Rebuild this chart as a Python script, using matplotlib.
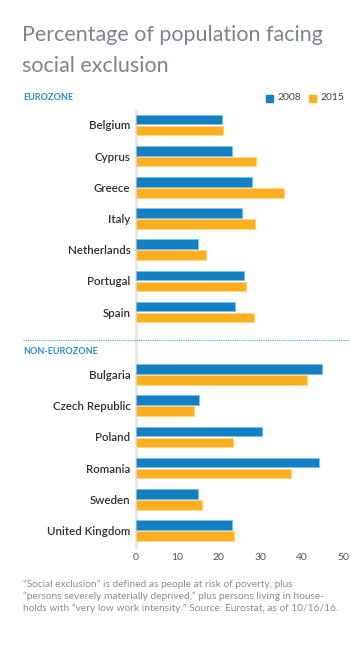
import numpy as np
import matplotlib.pyplot as plt
from matplotlib.patches import Rectangle

# data
euro_countries = ["Belgium", "Cyprus", "Greece", "Italy", "Netherlands", "Portugal", "Spain"]
euro_2008 = [20.8, 23.2, 28.1, 25.5, 15.0, 26.0, 23.9]
euro_2015 = [21.1, 28.9, 35.7, 28.7, 16.8, 26.6, 28.6]

non_euro_countries = ["Bulgaria", "Czech Republic", "Poland", "Romania", "Sweden", "United Kingdom"]
non_euro_2008 = [44.9, 15.3, 30.5, 44.2, 15.0, 23.2]
non_euro_2015 = [41.3, 14.0, 23.5, 37.4, 16.0, 23.6]

years = ["2008", "2015"]
x_ticks = [0, 10, 20, 30, 40, 50]

blue = "#1480c4"
orange = "#fdaf20"
blue_edge = "#7cc0ea"
orange_edge = "#fed68a"
title_color = "#7a858d"
section_color = "#2a8fd0"
label_color = "#2e2e2e"
note_color = "#8c8c8c"

plt.rcParams['font.family'] = ['Lato', 'DejaVu Sans']

fig = plt.figure(figsize=(3.5, 6.47), dpi=100)
W, H = 350, 647

def fx(px):
    return px / W

def fy(py):
    return 1 - py / H

# rows: eurozone at 0..6, gap, non-eurozone at 8..13
countries = euro_countries + non_euro_countries
pos = list(range(len(euro_countries))) + list(range(len(euro_countries) + 1, len(euro_countries) + 1 + len(non_euro_countries)))
pos = np.array(pos)
v2008 = np.array(euro_2008 + non_euro_2008)
v2015 = np.array(euro_2015 + non_euro_2015)

ax = fig.add_axes([fx(136), fy(547), fx(343) - fx(136), (547 - 110) / H])
bh = 0.31
off = 0.176
ax.barh(pos - off, v2008, height=bh, color=blue, edgecolor=blue_edge, linewidth=0.6, zorder=3)
ax.barh(pos + off, v2015, height=bh, color=orange, edgecolor=orange_edge, linewidth=0.6, zorder=3)

ax.set_xlim(0, 50)
ax.set_ylim(13.53, -0.48)
ax.set_xticks(x_ticks)
ax.set_xticklabels([str(t) for t in x_ticks], color="#555555", fontsize=7.5)
ax.set_yticks(pos)
ax.set_yticklabels(countries, color=label_color, fontsize=8.3, fontweight="semibold")
ax.tick_params(axis="both", length=0)
ax.tick_params(axis="y", pad=4)
ax.tick_params(axis="x", pad=4)
for s in ["top", "right", "bottom"]:
    ax.spines[s].set_visible(False)
ax.spines["left"].set_color("#e6e6e6")
ax.spines["left"].set_linewidth(2)
ax.spines["left"].set_zorder(1)

# title, two lines
fig.text(fx(22), fy(41), "Percentage of population facing",
         fontsize=15.5, color=title_color, fontweight="normal", va="baseline", ha="left")
fig.text(fx(22), fy(72), "social exclusion",
         fontsize=15.5, color=title_color, fontweight="normal", va="baseline", ha="left")

# section labels
fig.text(fx(23), fy(97.5), "EUROZONE", fontsize=6.5, color=section_color,
         fontweight="bold", va="center", ha="left")
fig.text(fx(23), fy(352), "NON-EUROZONE", fontsize=6.5, color=section_color,
         fontweight="bold", va="center", ha="left")

# dotted separator
fig.add_artist(plt.Line2D([fx(23), fx(350)], [fy(340), fy(340)], color=section_color,
                          linestyle=(0, (1, 1)), linewidth=0.8, alpha=0.8))

# legend
for x0, c, lab in [(266, blue, years[0]), (309, orange, years[1])]:
    fig.add_artist(Rectangle((fx(x0), fy(102)), fx(7), 7 / H, color=c, transform=fig.transFigure))
    fig.text(fx(x0 + 11), fy(98), lab, fontsize=7.5, color="#444444", va="center", ha="left")

# footnote
note = ("\u201cSocial exclusion\u201d is defined as people at risk of poverty, plus\n"
        "\u201cpersons severely materially deprived,\u201d plus persons living in house-\n"
        "holds with \u201cvery low work intensity.\u201d Source: Eurostat, as of 10/16/16.")
fig.text(fx(23), fy(580), note, fontsize=7.3, color=note_color, va="top", ha="left",
         linespacing=1.3)

plt.savefig("out.png", dpi=100)
